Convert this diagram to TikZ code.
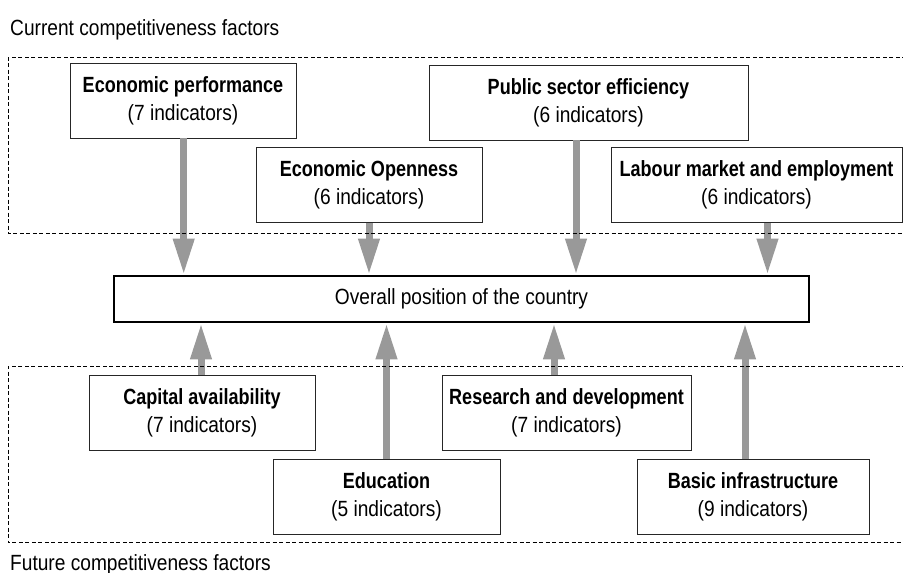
\documentclass[tikz,border=0pt]{standalone}
\usepackage{fontspec}
\setmainfont[FakeStretch=0.87,BoldFeatures={FakeStretch=0.82}]{Liberation Sans}
\usepackage{tikz}
\usetikzlibrary{arrows.meta}
\definecolor{arr}{gray}{0.6}
\definecolor{edge}{gray}{0.15}

\begin{document}
\begin{tikzpicture}[x=1pt,y=-1pt,
  factor/.style={draw=edge, line width=0.9pt, fill=white, align=center, inner sep=0pt, minimum height=75pt, font=\fontsize{22}{28}\selectfont},
  flow/.style={draw=arr, line width=7pt, -{Triangle[length=36pt,width=20pt]}},
  frame/.style={line width=0.8pt, dash pattern=on 4pt off 2.5pt},
  caption/.style={anchor=base west, inner sep=0pt, font=\fontsize{22}{28}\selectfont}]
\useasboundingbox (0,0) rectangle (903,573);
\foreach \nm/\x/\y/\w/\ttl/\n in {ep/183/100.5/226/Economic performance/7, eo/369/185/226/Economic Openness/6, pse/588.5/102.5/319/Public sector efficiency/6, lm/756.5/185/291/Labour market and employment/6, ca/202/412.5/226/Capital availability/7, edu/386.5/496.5/227/Education/5, rd/566.5/412.5/249/Research and development/7, bi/753/496.5/232/Basic infrastructure/9}{
\node[factor, minimum width=\w pt] (\nm) at (\x,\y) {\textbf{\ttl}\\(\n\ indicators)};
}
\node[factor, draw=black, line width=2.8pt, minimum width=695pt, minimum height=46pt] (all) at (461.5,299) {Overall position of the country};
% current factors feed down, future factors feed up
\foreach \src/\dx in {ep/0.7, eo/0, pse/-12.5, lm/11}
  \draw[flow] ([xshift=\dx pt]\src.south) -- ([xshift=\dx pt]\src.south |- all.north);
\foreach \src/\dx in {ca/-1, edu/0, rd/-12.5, bi/-8}
  \draw[flow] ([xshift=\dx pt]\src.north) -- ([xshift=\dx pt]\src.north |- all.south);
\draw[frame] (906,57.5) -- (8,57.5) -- (8,233) -- (906,233);
\draw[frame] (906,366) -- (8,366) -- (8,542.5) -- (906,542.5);
\node[caption] (cur) at (10,35) {Current competitiveness factors};
\node[caption] (fut) at (10,570) {Future competitiveness factors};
\end{tikzpicture}
\end{document}
